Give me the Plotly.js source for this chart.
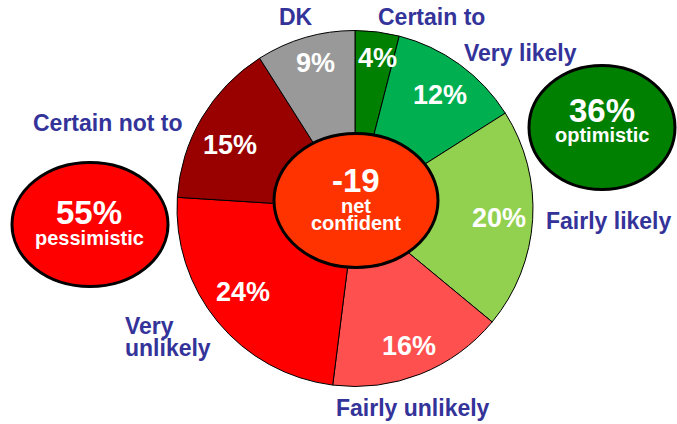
<!DOCTYPE html>
<html>
<head>
<meta charset="utf-8">
<script src="https://cdn.plot.ly/plotly-3.0.1.min.js"></script>
<style>
  html, body { margin: 0; padding: 0; background: #fff; }
  #chart { width: 677px; height: 424px; }
</style>
</head>
<body>
<div id="chart"></div>
<script>
// answers, clockwise from 12 o'clock
var categories = ["Certain to", "Very likely", "Fairly likely", "Fairly unlikely", "Very unlikely", "Certain not to", "DK"];
var shares = [4, 12, 20, 16, 24, 15, 9];
var sliceColors = ["#008000", "#00B050", "#92D050", "#FF5050", "#FF0000", "#990000", "#999999"];

// summary bubbles
var netConfident = -19;
var pessimistic = 55;
var optimistic = 36;

var W = 677, H = 424;
var FONT = "Arial, 'Liberation Sans', sans-serif";
var LABEL_COLOR = "#333399";

// pixel helpers -> paper coords
function px(x) { return x / W; }
function py(y) { return 1 - y / H; }

// pie geometry (pixels)
var cx = 355, cy = 208.5, R = 178;

// where the category names sit (pixel centres), same order as categories
var labelPos = [[431, 17], [520, 53], [609, 221], [413, 408], [123, 337, "left"], [108, 123], [296, 17]];
// small nudges (px) for the percentage labels, as placed in the original
var pctNudge = [[4, -8], [0, 3], [0, 0], [1, 4], [-1, -8], [-1, 10], [1, -7]];

var data = [{
  type: "pie",
  values: shares,
  labels: categories,
  sort: false,
  direction: "clockwise",
  rotation: 0,
  textinfo: "none",
  hoverinfo: "label+percent",
  marker: { colors: sliceColors, line: { color: "#000", width: 1 } },
  domain: { x: [px(cx - R), px(cx + R)], y: [py(cy + R), py(cy - R)] },
  showlegend: false
}];

var annotations = [];
function addText(text, x, y, size, color, anchor) {
  annotations.push({
    xref: "paper", yref: "paper", x: px(x), y: py(y),
    xanchor: anchor || "center", yanchor: "middle",
    text: text, showarrow: false,
    font: { family: FONT, size: size, color: color, weight: 700 }
  });
}

// percentages inside the slices, around 0.81 R on each slice's mid angle
var total = shares.reduce(function (a, b) { return a + b; }, 0);
var cum = 0;
shares.forEach(function (v, i) {
  var mid = (cum + v / 2) / total * 2 * Math.PI;
  cum += v;
  var r = 144;
  addText(v + "%", cx + r * Math.sin(mid) + pctNudge[i][0], cy - r * Math.cos(mid) + pctNudge[i][1], 27, "#fff");
});

// category names
categories.forEach(function (name, i) {
  var p = labelPos[i];
  if (p[2] === "left") {
    var words = name.split(" ");
    addText(words[0], p[0], p[1] - 11, 23, LABEL_COLOR, "left");
    addText(words.slice(1).join(" "), p[0], p[1] + 11, 23, LABEL_COLOR, "left");
  } else {
    addText(name, p[0], p[1], 23, LABEL_COLOR);
  }
});

// bubble texts
addText(String(netConfident), 356, 181, 33, "#fff");
addText("net", 356, 206, 20, "#fff");
addText("confident", 356, 223, 20, "#fff");
addText(pessimistic + "%", 89, 212, 33, "#fff");
addText("pessimistic", 89, 238, 20, "#fff");
addText(optimistic + "%", 602, 110, 33, "#fff");
addText("optimistic", 602, 135, 20, "#fff");

function ellipse(x, y, rx, ry, fill) {
  return {
    type: "circle", xref: "paper", yref: "paper", layer: "above",
    x0: px(x - rx), x1: px(x + rx), y0: py(y + ry), y1: py(y - ry),
    fillcolor: fill, line: { color: "#000", width: 3 }
  };
}

var layout = {
  width: W, height: H,
  margin: { l: 0, r: 0, t: 0, b: 0 },
  paper_bgcolor: "#fff",
  plot_bgcolor: "#fff",
  shapes: [
    ellipse(356, 200.5, 82, 67, "#FF3300"),
    ellipse(90, 224.5, 78, 62, "#FF0000"),
    ellipse(602, 127.5, 73, 62, "#008000")
  ],
  annotations: annotations
};

Plotly.newPlot("chart", data, layout, { displayModeBar: false, staticPlot: true });
</script>
</body>
</html>
